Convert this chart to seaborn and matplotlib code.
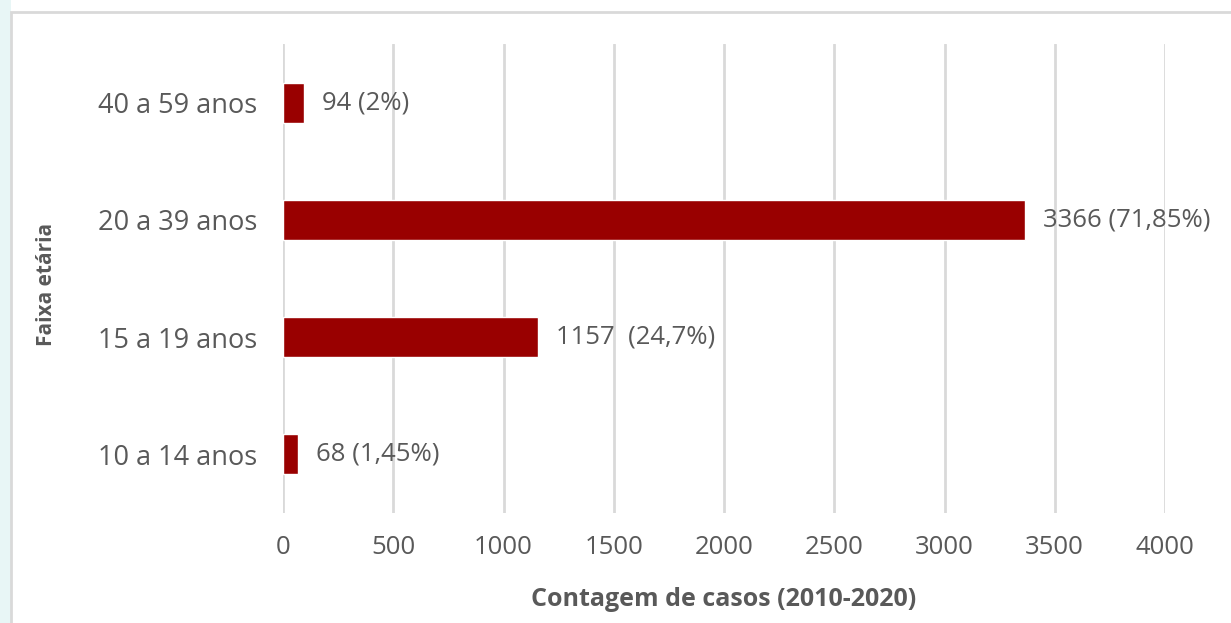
import matplotlib
matplotlib.use("Agg")
import matplotlib.pyplot as plt
import seaborn as sns
import pandas as pd
from matplotlib.patches import Rectangle

categories = ["40 a 59 anos", "20 a 39 anos", "15 a 19 anos", "10 a 14 anos"]
values = [94, 3366, 1157, 68]
labels = ["94 (2%)", "3366 (71,85%)", "1157  (24,7%)", "68 (1,45%)"]
xticks = [0, 500, 1000, 1500, 2000, 2500, 3000, 3500, 4000]

df = pd.DataFrame({"cat": categories, "val": values})

sns.set_theme(style="white")
plt.rcParams["font.family"] = ["Open Sans", "DejaVu Sans"]

fig = plt.figure(figsize=(12.31, 6.23), dpi=100)
fig.patch.set_facecolor("white")
# faint teal strip at far left and frame
fig.patches.append(Rectangle((0, 0), 11 / 1231, 1, transform=fig.transFigure,
                             facecolor="#e8f6f6", edgecolor="none", zorder=0))
fig.patches.append(Rectangle((11 / 1231, -0.01), 1.0, 1 - 12 / 623 + 0.01,
                             transform=fig.transFigure, facecolor="none",
                             edgecolor="#d9d9d9", linewidth=2, zorder=1))

ax = fig.add_axes([283 / 1231, 1 - 513 / 623, (1165 - 283) / 1231, (513 - 44) / 623])
ax.set_facecolor("none")
sns.barplot(data=df, x="val", y="cat", orient="h", color="#990000",
            saturation=1, width=0.34, ax=ax, zorder=3)

ax.set_xlim(0, 4000)
ax.set_ylim(3.5, -0.5)
ax.set_xticks(xticks)
ax.set_xticklabels([str(t) for t in xticks], color="#595959", fontsize=18.5)
ax.tick_params(axis="x", length=0, pad=16)
ax.tick_params(axis="y", length=0, pad=18.5)
for t in ax.get_yticklabels():
    t.set_color("#595959")
    t.set_fontsize(19.5)
ax.grid(axis="x", color="#d9d9d9", linewidth=2, zorder=0)
ax.grid(axis="y", visible=False)
for s in ax.spines.values():
    s.set_visible(False)

for i, (v, lab) in enumerate(zip(values, labels)):
    ax.annotate(lab, xy=(v, i), xytext=(13, 0), textcoords="offset points",
                ha="left", va="center", fontsize=18.5, color="#595959")

ax.set_xlabel("Contagem de casos (2010-2020)", fontsize=18, fontweight="bold",
              color="#595959", labelpad=19)
ax.set_ylabel("")
fig.text(46 / 1231, 1 - 284 / 623, "Faixa etária", rotation=90, ha="center",
         va="center", fontsize=15, fontweight="bold", color="#595959")

fig.savefig("out.png", dpi=100)
